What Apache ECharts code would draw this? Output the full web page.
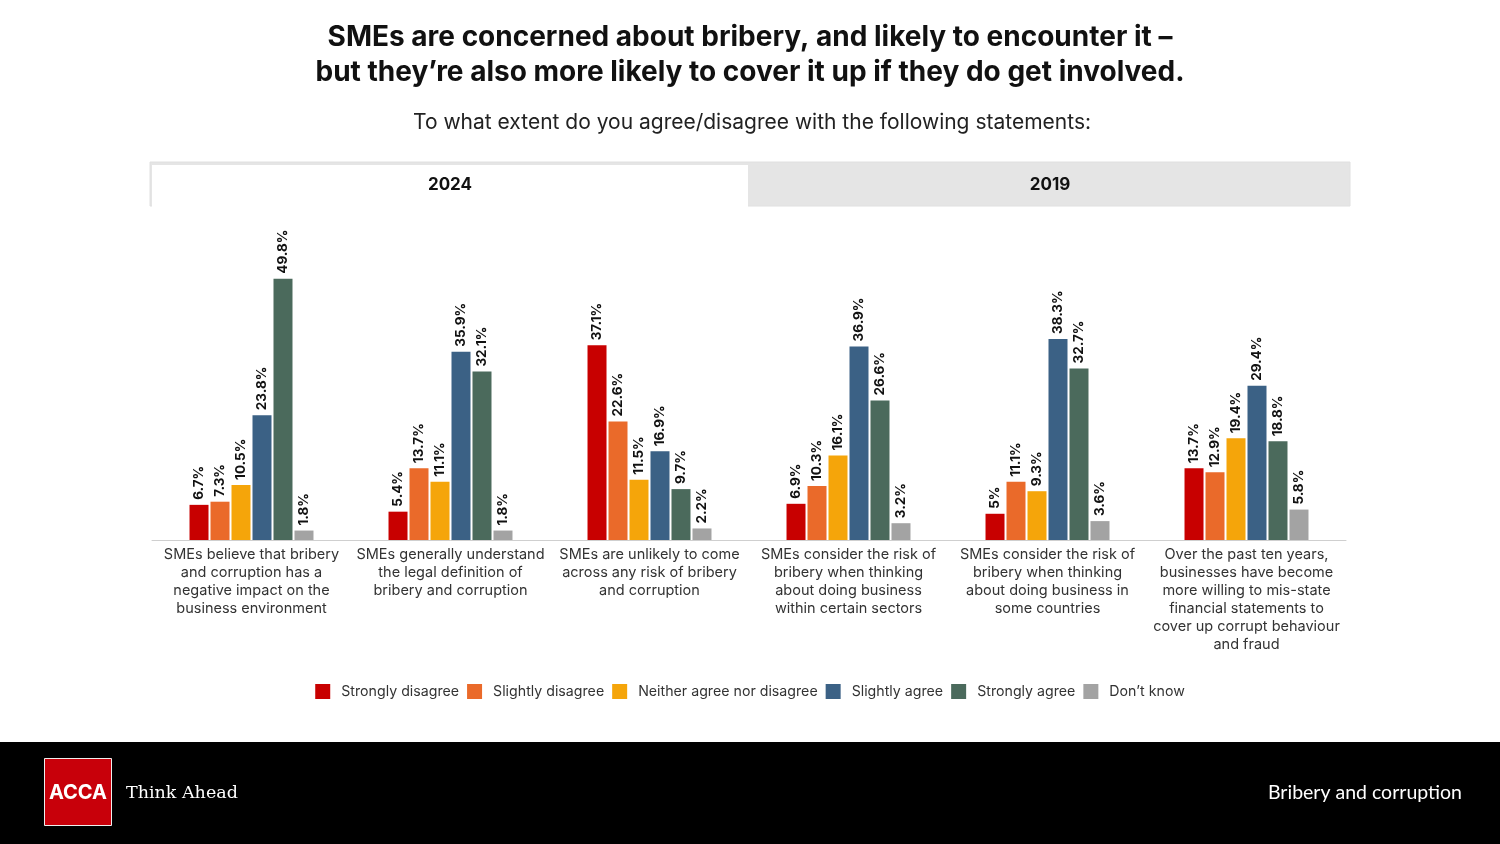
<!DOCTYPE html>
<html><head><meta charset="utf-8">
<script src="https://cdn.jsdelivr.net/npm/echarts@6/dist/echarts.min.js"></script>
<style>html,body{margin:0;padding:0;background:#fff}#c{width:1500px;height:844px}</style>
</head><body><div id="c"></div>
<script>
const categories = [
  "SMEs believe that bribery\nand corruption has a\nnegative impact on the\nbusiness environment",
  "SMEs generally understand\nthe legal definition of\nbribery and corruption",
  "SMEs are unlikely to come\nacross any risk of bribery\nand corruption",
  "SMEs consider the risk of\nbribery when thinking\nabout doing business\nwithin certain sectors",
  "SMEs consider the risk of\nbribery when thinking\nabout doing business in\nsome countries",
  "Over the past ten years,\nbusinesses have become\nmore willing to mis-state\nfinancial statements to\ncover up corrupt behaviour\nand fraud"
];
const seriesNames = ["Strongly disagree","Slightly disagree","Neither agree nor disagree","Slightly agree","Strongly agree","Don\u2019t know"];
const stronglyDisagree = [6.7, 5.4, 37.1, 6.9, 5, 13.7];
const slightlyDisagree = [7.3, 13.7, 22.6, 10.3, 11.1, 12.9];
const neither = [10.5, 11.1, 11.5, 16.1, 9.3, 19.4];
const slightlyAgree = [23.8, 35.9, 16.9, 36.9, 38.3, 29.4];
const stronglyAgree = [49.8, 32.1, 9.7, 26.6, 32.7, 18.8];
const dontKnow = [1.8, 1.8, 2.2, 3.2, 3.6, 5.8];
const tabLabels = ["2024", "2019"];
const titleLines = "SMEs are concerned about bribery, and likely to encounter it \u2013\nbut they\u2019re also more likely to cover it up if they do get involved.";
const subtitle = "To what extent do you agree/disagree with the following statements:";

const colors = ["#C80000","#EA6A2A","#F5A50A","#3B6185","#4B6A5C","#A3A3A3"];
const allData = [stronglyDisagree, slightlyDisagree, neither, slightlyAgree, stronglyAgree, dontKnow];
const FONT = "Inter, 'Open Sans', sans-serif";

const chart = echarts.init(document.getElementById('c'), null, {renderer:'canvas'});
const series = seriesNames.map((n,i)=>({
  name: n, type: 'bar', data: allData[i],
  barWidth: 19, barGap: '10.5%',
  itemStyle: {color: colors[i]},
  label: {show: true, position: 'top', rotate: 90, align: 'left', verticalAlign: 'middle', distance: 5,
    formatter: p => p.value + '%', color: '#111', fontSize: 13.5, fontWeight: 'bold', fontFamily: FONT}
}));

chart.setOption({
  backgroundColor: '#fff',
  animation: false,
  legend: {
    bottom: 140, left: 'center', itemWidth: 15, itemHeight: 15, itemGap: 8,
    icon: 'rect', data: seriesNames,
    textStyle: {fontSize: 14.2, color: '#333', fontFamily: FONT, padding: [0, 0, 0, 6]}
  },
  grid: {left: 152, right: 154, top: 199, bottom: 304, containLabel: false},
  xAxis: {type: 'category', data: categories,
    axisLine: {lineStyle: {color: '#cfcfcf'}}, axisTick: {show: false},
    axisLabel: {interval: 0, color: '#333', fontSize: 14.5, lineHeight: 18, fontFamily: FONT, margin: 6}
  },
  yAxis: {type: 'value', min: 0, max: 65, show: false, splitLine: {show: false}},
  series: series,
  graphic: [
    {type: 'text', x: 750, y: 20, style: {text: titleLines, fill: '#111', font: "bold 28px " + FONT, lineHeight: 35, textAlign: 'center', textVerticalAlign: 'top'}, z: 3},
    {type: 'text', x: 752, y: 123, style: {text: subtitle, fill: '#222', font: "21px " + FONT, textAlign: 'center', textVerticalAlign: 'middle'}, z: 3},
    {type: 'rect', shape: {x: 150, y: 162, width: 1200, height: 44}, style: {fill: '#e5e5e5', stroke: '#e0e0e0'}, z: 1},
    {type: 'rect', shape: {x: 152, y: 165, width: 596, height: 42}, style: {fill: '#fff'}, z: 2},
    {type: 'text', x: 450, y: 185, style: {text: tabLabels[0], fill: '#111', font: "bold 17px " + FONT, textAlign: 'center', textVerticalAlign: 'middle'}, z: 3},
    {type: 'text', x: 1050, y: 185, style: {text: tabLabels[1], fill: '#111', font: "bold 17px " + FONT, textAlign: 'center', textVerticalAlign: 'middle'}, z: 3},
    {type: 'rect', shape: {x: 0, y: 742, width: 1500, height: 102}, style: {fill: '#000'}, z: 1},
    {type: 'rect', shape: {x: 44.5, y: 758.5, width: 67, height: 67}, style: {fill: '#C8000A', stroke: '#eee', lineWidth: 1}, z: 2},
    {type: 'text', x: 78, y: 793, style: {text: 'ACCA', fill: '#fff', font: "bold 20px " + FONT, textAlign: 'center', textVerticalAlign: 'middle'}, z: 3},
    {type: 'text', x: 126, y: 793, style: {text: 'Think Ahead', fill: '#fff', font: "17.5px 'DejaVu Serif', 'Liberation Serif', serif", textAlign: 'left', textVerticalAlign: 'middle'}, z: 3},
    {type: 'text', x: 1462, y: 793, style: {text: 'Bribery and corruption', fill: '#fff', font: "19.5px 'Lato', " + FONT, textAlign: 'right', textVerticalAlign: 'middle'}, z: 3}
  ]
});
</script></body></html>
